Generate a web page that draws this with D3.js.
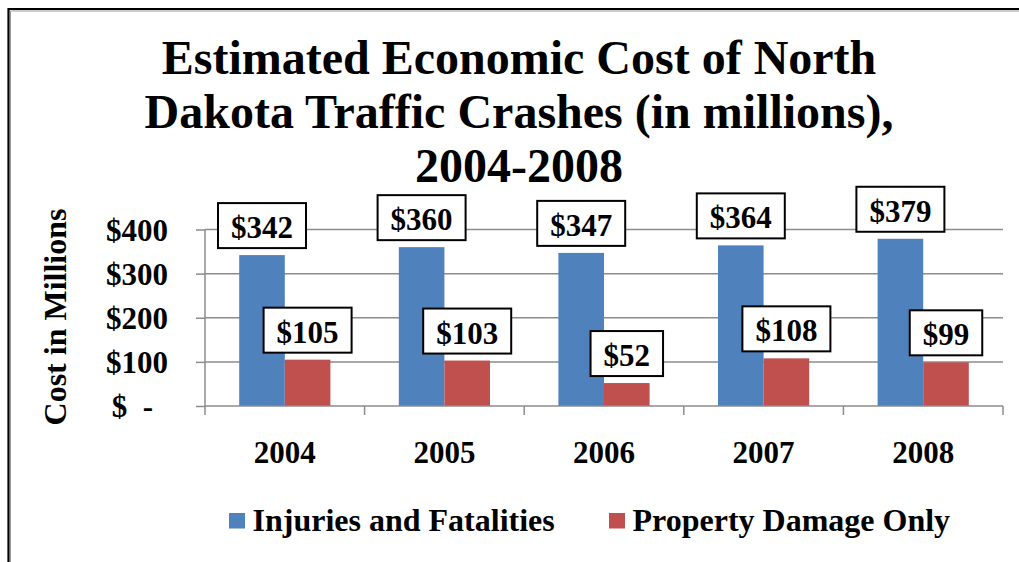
<!DOCTYPE html>
<html><head><meta charset="utf-8">
<script src="https://cdn.jsdelivr.net/npm/d3@7"></script>
<style>
html,body{margin:0;padding:0;background:#fff;}
text{font-family:"Liberation Serif","Times New Roman",serif;font-weight:bold;fill:#000;}
</style></head>
<body><svg id="c" width="1019" height="562"></svg>
<script>
const years = ["2004","2005","2006","2007","2008"];
const seriesNames = ["Injuries and Fatalities","Property Damage Only"];
const injuries = [342,360,347,364,379];
const property = [105,103,52,108,99];
const yTicks = [0,100,200,300,400];
const titleLines = ["Estimated Economic Cost of North","Dakota Traffic Crashes (in millions),","2004-2008"];
const colors = ["#4f81bd","#c0504d"];

const svg = d3.select("#c");
svg.append("rect").attr("width",1019).attr("height",562).attr("fill","#fff");
// frame
svg.append("path").attr("d","M8.5,562 V9 H1019").attr("fill","none").attr("stroke","#000").attr("stroke-width",2.2);
svg.append("path").attr("d","M10.5,562 V11 H1019").attr("fill","none").attr("stroke","#999").attr("stroke-width",1);

const x0 = d3.scaleBand().domain(years).range([205,1003]).paddingInner(0).paddingOuter(0);
const x1 = d3.scaleBand().domain(seriesNames).range([0,x0.bandwidth()]).paddingInner(0).paddingOuter(0.75);
const y = d3.scaleLinear().domain([0,400]).range([406,229.5]);

// gridlines
svg.append("g").selectAll("line").data(yTicks.filter(d=>d>0)).join("line")
  .attr("x1",205).attr("x2",1003).attr("y1",d=>y(d)).attr("y2",d=>y(d))
  .attr("stroke","#8c8c8c").attr("stroke-width",1.5);

// y axis
const yAxis = svg.append("g").attr("transform","translate(205,0)")
  .call(d3.axisLeft(y).tickValues(yTicks).tickSize(9).tickPadding(37)
    .tickFormat(d=> d===0 ? "$  -" : "$"+d));
yAxis.select(".domain").attr("stroke","#8c8c8c").attr("stroke-width",1.5).attr("d","M0,"+y(400)+"V"+y(0));
yAxis.selectAll(".tick line").attr("stroke","#8c8c8c").attr("stroke-width",1.5);
yAxis.selectAll(".tick text").attr("font-size",31).attr("dy","0.35em").style("white-space","pre")
  .attr("x",d=> d===0 ? -52 : -37);

// bars
const groups = svg.append("g").selectAll("g").data(years).join("g")
  .attr("transform",d=>`translate(${x0(d)},0)`);
const rows = years.map((yr,i)=>[{s:seriesNames[0],v:injuries[i],c:0},{s:seriesNames[1],v:property[i],c:1}]);
groups.each(function(yr,i){
  const g = d3.select(this);
  g.selectAll("rect").data(rows[i]).join("rect")
    .attr("x",d=>x1(d.s)).attr("width",x1.bandwidth())
    .attr("y",d=>y(d.v)).attr("height",d=>y(0)-y(d.v))
    .attr("fill",d=>colors[d.c]);
});

// x axis
const xAxis = svg.append("g").attr("transform",`translate(0,${y(0)})`)
  .call(d3.axisBottom(x0).tickSize(0).tickPadding(0));
xAxis.select(".domain").attr("stroke","#8c8c8c").attr("stroke-width",1.5).attr("d","M205,0H1003");
xAxis.selectAll(".tick text").attr("font-size",31).attr("y",57).attr("dy",0);
const bounds = years.map(d=>x0(d)).concat([x0(years[years.length-1])+x0.bandwidth()]);
xAxis.append("g").selectAll("line").data(bounds).join("line")
  .attr("x1",d=>d).attr("x2",d=>d).attr("y1",0).attr("y2",9)
  .attr("stroke","#8c8c8c").attr("stroke-width",1.5);

// data labels
groups.each(function(yr,i){
  const g = d3.select(this);
  rows[i].forEach(d=>{
    const cx = x1(d.s)+x1.bandwidth()/2;
    const lg = g.append("g");
    const t = lg.append("text").attr("font-size",31).attr("text-anchor","middle")
      .attr("x",cx).attr("y",y(d.v)-17).text("$"+d.v);
    const w = t.node().getComputedTextLength()+26;
    lg.insert("rect","text").attr("x",cx-w/2).attr("y",y(d.v)-7-45).attr("width",w).attr("height",45)
      .attr("fill","#fff").attr("stroke","#000").attr("stroke-width",2);
  });
});

// title
svg.append("g").selectAll("text").data(titleLines).join("text")
  .attr("x",519).attr("y",(d,i)=>73.5+i*54).attr("text-anchor","middle").attr("font-size",48).text(d=>d);

// y title
svg.append("text").attr("transform","translate(66,317) rotate(-90)").attr("text-anchor","middle")
  .attr("font-size",32).text("Cost in Millions");

// legend
const legX = [229,609];
const leg = svg.append("g").selectAll("g").data(seriesNames).join("g")
  .attr("transform",(d,i)=>`translate(${legX[i]},0)`);
leg.append("rect").attr("x",0).attr("y",513).attr("width",16).attr("height",15.5).attr("fill",(d,i)=>colors[i]);
leg.append("text").attr("x",23.5).attr("y",530.7).attr("font-size",32).text(d=>d);
</script></body></html>
